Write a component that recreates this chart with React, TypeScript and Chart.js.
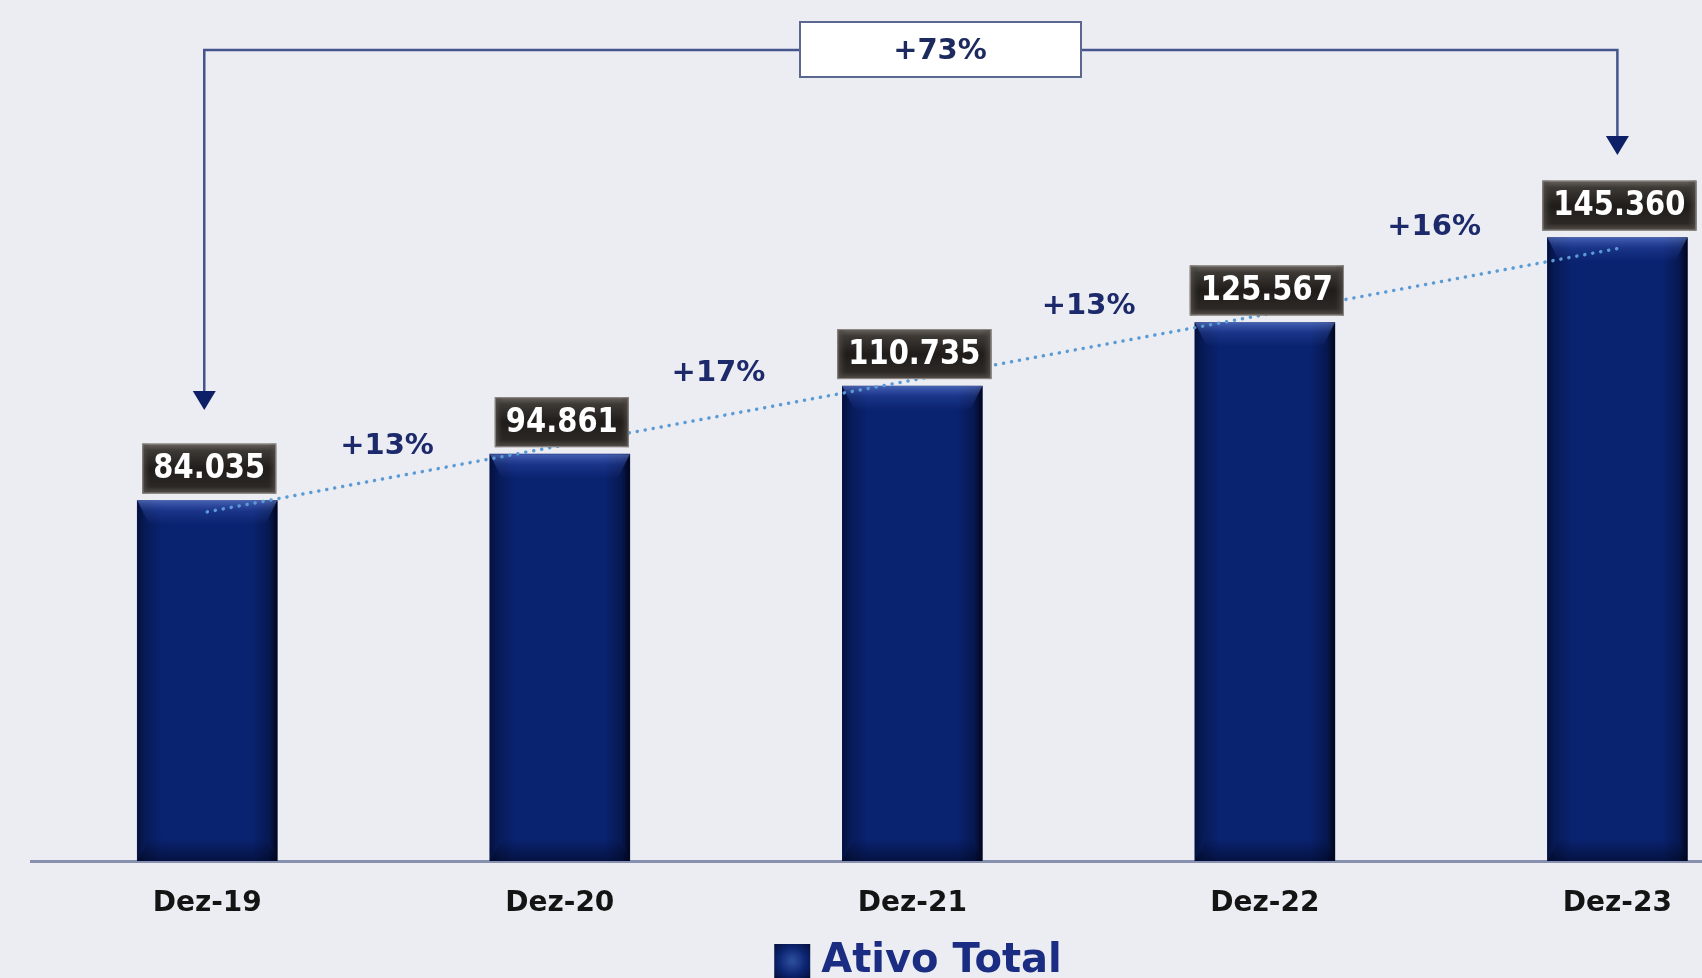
import React, { useEffect, useRef } from 'react';
import { Chart, registerables } from 'chart.js';

Chart.register(...registerables);

// ---------- data ----------
const categories = ['Dez-19', 'Dez-20', 'Dez-21', 'Dez-22', 'Dez-23'];
const ativoTotal = [84035, 94861, 110735, 125567, 145360];
const valueLabels = ['84.035', '94.861', '110.735', '125.567', '145.360'];
const trendValues = [81400, 96800, 112100, 127400, 142800];
const growthLabels = ['+13%', '+17%', '+13%', '+16%'];
const totalGrowthLabel = '+73%';
const seriesName = 'Ativo Total';

// ---------- annotation layout ----------
const growthAnchorX = [0.51, 1.45, 2.5, 3.48];
const growthAnchorY = [96700, 113750, 129400, 147800];

const FONT = '"DejaVu Sans", Verdana, sans-serif';
const BG = '#ecedf2';
const BAR = '#0a2370';

const decorPlugin = {
  id: 'decor',
  beforeDraw(chart: any) {
    const { ctx, width, height } = chart;
    ctx.save();
    ctx.fillStyle = BG;
    ctx.fillRect(0, 0, width, height);
    ctx.restore();
  },
  afterDatasetDraw(chart: any, args: any) {
    if (args.index !== 0) return;
    const { ctx } = chart;
    const meta = chart.getDatasetMeta(0);
    ctx.save();
    meta.data.forEach((el: any) => {
      const { x, y, base, width } = el.getProps(['x', 'y', 'base', 'width'], true);
      const l = x - width / 2;
      const r = x + width / 2;
      const h = base - y;
      const g = ctx.createLinearGradient(l, 0, r, 0);
      g.addColorStop(0, 'rgba(0,4,25,0.6)');
      g.addColorStop(0.05, 'rgba(0,4,25,0.3)');
      g.addColorStop(0.18, 'rgba(0,4,25,0)');
      g.addColorStop(0.82, 'rgba(0,4,25,0)');
      g.addColorStop(0.94, 'rgba(0,4,25,0.35)');
      g.addColorStop(1, 'rgba(0,0,8,0.85)');
      ctx.fillStyle = g;
      ctx.fillRect(l, y, width, h);
      // top bevel
      const tg = ctx.createLinearGradient(0, y, 0, y + 24);
      tg.addColorStop(0, 'rgba(110,140,225,0.6)');
      tg.addColorStop(0.45, 'rgba(60,90,190,0.3)');
      tg.addColorStop(1, 'rgba(60,90,190,0)');
      ctx.fillStyle = tg;
      ctx.beginPath();
      ctx.moveTo(l, y);
      ctx.lineTo(r, y);
      ctx.lineTo(r - 12, y + 24);
      ctx.lineTo(l + 12, y + 24);
      ctx.closePath();
      ctx.fill();
      // bottom bevel
      const bg = ctx.createLinearGradient(0, base - 22, 0, base);
      bg.addColorStop(0, 'rgba(0,5,30,0)');
      bg.addColorStop(1, 'rgba(0,5,30,0.55)');
      ctx.fillStyle = bg;
      ctx.beginPath();
      ctx.moveTo(l + 12, base - 22);
      ctx.lineTo(r - 12, base - 22);
      ctx.lineTo(r, base);
      ctx.lineTo(l, base);
      ctx.closePath();
      ctx.fill();
    });
    ctx.restore();
  },
  afterDatasetsDraw(chart: any) {
    const { ctx, scales } = chart;
    const xs = scales.x;
    const ys = scales.y;
    const meta = chart.getDatasetMeta(0);
    ctx.save();

    // value label boxes
    ctx.font = `bold 29px ${FONT}`;
    meta.data.forEach((el: any, i: number) => {
      const { x, y } = el.getProps(['x', 'y'], true);
      const text = valueLabels[i];
      const tw = ctx.measureText(text).width;
      const w = tw + 22;
      const h = 50;
      const cx = x + 2;
      const bottom = y - 7;
      const top = bottom - h;
      const left = cx - w / 2;
      const g = ctx.createLinearGradient(0, top, 0, bottom);
      g.addColorStop(0, '#6a6561');
      g.addColorStop(0.14, '#3d3935');
      g.addColorStop(0.5, '#1f1c1a');
      g.addColorStop(0.86, '#2c2825');
      g.addColorStop(1, '#55504b');
      ctx.fillStyle = g;
      ctx.fillRect(left, top, w, h);
      const sg = ctx.createLinearGradient(left, 0, left + w, 0);
      sg.addColorStop(0, 'rgba(90,85,80,0.8)');
      sg.addColorStop(0.06, 'rgba(60,55,50,0)');
      sg.addColorStop(0.94, 'rgba(60,55,50,0)');
      sg.addColorStop(1, 'rgba(90,85,80,0.8)');
      ctx.fillStyle = sg;
      ctx.fillRect(left, top, w, h);
      ctx.strokeStyle = '#8e8984';
      ctx.lineWidth = 1;
      ctx.strokeRect(left + 0.5, top + 0.5, w - 1, h - 1);
      ctx.save();
      ctx.translate(cx, top + h / 2 + 1);
      ctx.scale(1, 1.15);
      ctx.fillStyle = '#ffffff';
      ctx.textAlign = 'center';
      ctx.textBaseline = 'middle';
      ctx.fillText(text, 0, 0);
      ctx.restore();
    });

    // growth labels
    ctx.font = `bold 29px ${FONT}`;
    ctx.fillStyle = '#1c2a6b';
    ctx.textAlign = 'center';
    ctx.textBaseline = 'middle';
    growthLabels.forEach((t, i) => {
      ctx.fillText(t, xs.getPixelForValue(growthAnchorX[i]), ys.getPixelForValue(growthAnchorY[i]));
    });

    // bracket
    const lx = xs.getPixelForValue(0) - 3;
    const rx = xs.getPixelForValue(categories.length - 1);
    const topY = 50;
    const leftTip = 410;
    const rightTip = 155;
    const ah = 19;
    ctx.strokeStyle = '#44548c';
    ctx.lineWidth = 2.5;
    ctx.beginPath();
    ctx.moveTo(lx, leftTip - ah);
    ctx.lineTo(lx, topY);
    ctx.lineTo(rx, topY);
    ctx.lineTo(rx, rightTip - ah);
    ctx.stroke();
    ctx.fillStyle = '#0d1f66';
    [[lx, leftTip], [rx, rightTip]].forEach(([ax, ay]) => {
      ctx.beginPath();
      ctx.moveTo(ax - 11.5, ay - ah);
      ctx.lineTo(ax + 11.5, ay - ah);
      ctx.lineTo(ax, ay);
      ctx.closePath();
      ctx.fill();
    });
    // total box
    ctx.fillStyle = '#ffffff';
    ctx.fillRect(800, 22, 281, 55);
    ctx.strokeStyle = '#5a6890';
    ctx.lineWidth = 2;
    ctx.strokeRect(800, 22, 281, 55);
    ctx.fillStyle = '#1c2a5e';
    ctx.font = `bold 29px ${FONT}`;
    ctx.fillText(totalGrowthLabel, 940, 51);

    // legend
    ctx.font = `bold 40px ${FONT}`;
    const lw = ctx.measureText(seriesName).width;
    const box = 36;
    const gap = 11;
    const startX = 918 - (box + gap + lw) / 2;
    const sq = ctx.createRadialGradient(startX + box / 2, 961, 2, startX + box / 2, 961, 26);
    sq.addColorStop(0, '#2a4a9a');
    sq.addColorStop(0.5, '#0c2470');
    sq.addColorStop(1, '#040c30');
    ctx.fillStyle = sq;
    ctx.fillRect(startX, 944, box, box);
    ctx.fillStyle = '#1a2d82';
    ctx.textAlign = 'left';
    ctx.textBaseline = 'alphabetic';
    ctx.fillText(seriesName, startX + box + gap, 972);

    ctx.restore();
  },
};

export default function App() {
  const canvasRef = useRef<HTMLCanvasElement | null>(null);

  useEffect(() => {
    if (!canvasRef.current) return;
    const chart = new Chart(canvasRef.current, {
      type: 'bar',
      data: {
        datasets: [
          {
            type: 'bar',
            label: seriesName,
            data: ativoTotal.map((v, i) => ({ x: i, y: v })),
            backgroundColor: BAR,
            borderWidth: 0,
            barThickness: 140,
            order: 1,
          } as any,
          {
            type: 'line',
            label: 'Tendência',
            data: trendValues.map((v, i) => ({ x: i, y: v })),
            borderColor: '#5b9bd5',
            borderWidth: 3.5,
            borderDash: [0.1, 8],
            borderCapStyle: 'round',
            pointRadius: 0,
            fill: false,
            order: 0,
          } as any,
        ],
      },
      options: {
        animation: false,
        responsive: false,
        events: [],
        layout: { padding: { left: 31, right: 0, top: 89, bottom: 0 } },
        plugins: {
          legend: { display: false },
          tooltip: { enabled: false },
          title: { display: false },
        },
        scales: {
          x: {
            type: 'linear',
            offset: false,
            min: -0.5,
            max: 4.24,
            grid: { display: false, drawTicks: false, offset: false },
            border: { display: true, color: '#8890b0', width: 3 },
            afterBuildTicks: (axis: any) => {
              axis.ticks = categories.map((_, i) => ({ value: i }));
            },
            afterFit: (axis: any) => {
              axis.height = 117;
            },
            ticks: {
              autoSkip: false,
              maxRotation: 0,
              padding: 26,
              color: '#141414',
              font: { family: FONT, size: 28, weight: 'bold' },
              callback: (v: any) => categories[v] ?? '',
            },
          },
          y: {
            display: false,
            min: 0,
            max: 180000,
          },
        },
      } as any,
      plugins: [decorPlugin],
    });
    return () => chart.destroy();
  }, []);

  return (
    <div style={{ position: 'fixed', left: 0, top: 0, width: 1702, height: 978, background: BG }}>
      <canvas ref={canvasRef} width={1702} height={978} style={{ display: 'block', width: 1702, height: 978 }} />
    </div>
  );
}
